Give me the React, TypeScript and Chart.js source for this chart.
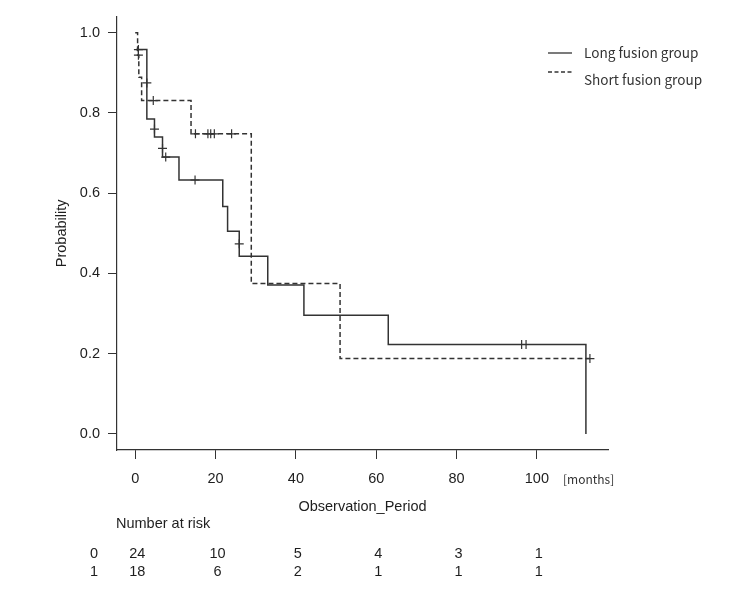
import React, { useEffect, useRef } from "react";
import { Chart, registerables } from "chart.js";

Chart.register(...registerables);

// ---- data ----
const xTicks = [0, 20, 40, 60, 80, 100];
const yTicks = [0, 0.2, 0.4, 0.6, 0.8, 1.0];
const seriesNames = ["Long fusion group", "Short fusion group"];

// Long fusion group (solid) Kaplan-Meier steps: time of change, survival after
const longTimes = [0.2, 2.9, 4.8, 6.8, 10.9, 21.8, 23.0, 25.9, 33.0, 42.0, 63.0, 112.2];
const longSurv = [0.958, 0.785, 0.74, 0.69, 0.633, 0.567, 0.505, 0.443, 0.371, 0.296, 0.223, 0.0];
const longCensorTimes = [0.8, 2.9, 4.8, 6.8, 7.6, 14.9, 25.9, 96.2, 97.3];
const longCensorSurv = [0.958, 0.875, 0.76, 0.712, 0.69, 0.633, 0.474, 0.223, 0.223];

// Short fusion group (dashed)
const shortTimes = [0, 0.6, 0.9, 1.6, 13.9, 28.9, 51.0, 113.2];
const shortSurv = [1.0, 0.944, 0.889, 0.831, 0.748, 0.375, 0.188, 0.188];
const shortCensorTimes = [0.8, 4.5, 15.0, 18.1, 18.8, 19.7, 24.0, 113.2];
const shortCensorSurv = [0.944, 0.831, 0.748, 0.748, 0.748, 0.748, 0.748, 0.188];

// Number at risk table
const riskGroups = ["0", "1"];
const riskLong = [24, 10, 5, 4, 3, 1];
const riskShort = [18, 6, 2, 1, 1, 1];

const LINE = "#333333";
const TEXT = "#1e1e1e";
const SANS = "'Liberation Sans', Arial, sans-serif";
const JP = "'Noto Sans CJK JP', 'Noto Sans', sans-serif";

const zip = (xs: number[], ys: number[]) => xs.map((x, i) => ({ x, y: ys[i] }));

const textPlugin = {
  id: "kmText",
  afterDraw(chart: any) {
    const ctx = chart.ctx as CanvasRenderingContext2D;
    const xs = chart.scales.x;
    const ca = chart.chartArea;
    ctx.save();
    ctx.fillStyle = TEXT;
    ctx.textBaseline = "middle";

    // y title
    ctx.save();
    ctx.translate(62, (ca.top + ca.bottom) / 2);
    ctx.rotate(-Math.PI / 2);
    ctx.textAlign = "center";
    ctx.font = `14.5px ${SANS}`;
    ctx.fillText("Probability", 0, 0);
    ctx.restore();

    // x title
    ctx.textAlign = "center";
    ctx.font = `14.5px ${SANS}`;
    ctx.fillText("Observation_Period", (ca.left + ca.right) / 2, 507);

    // [months]
    ctx.textAlign = "left";
    ctx.font = `12px ${JP}`;
    ctx.fillStyle = "#333";
    ctx.fillText("[months]", 563, 479);

    // Number at risk
    ctx.fillStyle = TEXT;
    ctx.font = `14.5px ${SANS}`;
    ctx.textAlign = "left";
    ctx.fillText("Number at risk", 116, 524);
    const rows = [riskLong, riskShort];
    const rowY = [554, 572];
    rows.forEach((row, r) => {
      ctx.textAlign = "center";
      ctx.fillText(riskGroups[r], 94, rowY[r]);
      row.forEach((v, i) => {
        ctx.fillText(String(v), xs.getPixelForValue(xTicks[i]) + 2, rowY[r]);
      });
    });

    // legend
    ctx.strokeStyle = LINE;
    ctx.lineWidth = 1.3;
    ctx.beginPath();
    ctx.moveTo(548, 53);
    ctx.lineTo(572, 53);
    ctx.stroke();
    ctx.setLineDash([4, 2.5]);
    ctx.beginPath();
    ctx.moveTo(548, 72);
    ctx.lineTo(572, 72);
    ctx.stroke();
    ctx.setLineDash([]);
    ctx.fillStyle = "#333";
    ctx.font = `13.6px ${JP}`;
    ctx.textAlign = "left";
    ctx.fillText(seriesNames[0], 584, 53);
    ctx.fillText(seriesNames[1], 584, 80);
    ctx.restore();
  },
};

export default function App() {
  const ref = useRef<HTMLCanvasElement | null>(null);
  useEffect(() => {
    if (!ref.current) return;
    const chart = new Chart(ref.current, {
      type: "line",
      data: {
        datasets: [
          {
            label: seriesNames[0],
            data: zip(longTimes, longSurv),
            stepped: "before",
            borderColor: LINE,
            borderWidth: 1.5,
            pointRadius: 0,
            fill: false,
          },
          {
            label: seriesNames[1],
            data: zip(shortTimes, shortSurv),
            stepped: "before",
            borderColor: LINE,
            borderWidth: 1.5,
            borderDash: [5, 3],
            pointRadius: 0,
            fill: false,
          },
          {
            label: "long censor",
            data: zip(longCensorTimes, longCensorSurv),
            showLine: false,
            pointStyle: "cross",
            pointRadius: 4.5,
            pointBorderColor: LINE,
            pointBorderWidth: 1.2,
            borderColor: LINE,
          },
          {
            label: "short censor",
            data: zip(shortCensorTimes, shortCensorSurv),
            showLine: false,
            pointStyle: "cross",
            pointRadius: 4.5,
            pointBorderColor: LINE,
            pointBorderWidth: 1.2,
            borderColor: LINE,
          },
        ],
      },
      options: {
        responsive: false,
        animation: false,
        events: [],
        layout: { padding: { top: 16, right: 142, bottom: 109, left: 0 } },
        plugins: { legend: { display: false }, tooltip: { enabled: false } },
        scales: {
          x: {
            type: "linear",
            min: -4.53,
            max: 117.7,
            afterFit: (s: any) => {
              s.height = 40;
            },
            afterBuildTicks: (s: any) => {
              s.ticks = xTicks.map((v) => ({ value: v }));
            },
            grid: {
              drawOnChartArea: false,
              drawTicks: true,
              tickLength: 9,
              color: LINE,
              lineWidth: 1,
            },
            border: { display: true, color: LINE, width: 1.2 },
            ticks: {
              color: TEXT,
              font: { family: SANS, size: 14.5 },
              padding: 11,
              maxRotation: 0,
              callback: (v: any) => String(v),
            },
          },
          y: {
            type: "linear",
            min: -0.04,
            max: 1.04,
            afterFit: (s: any) => {
              s.width = 117;
            },
            afterBuildTicks: (s: any) => {
              s.ticks = yTicks.map((v) => ({ value: v }));
            },
            grid: {
              drawOnChartArea: false,
              drawTicks: true,
              tickLength: 9,
              color: LINE,
              lineWidth: 1,
            },
            border: { display: true, color: LINE, width: 1.2 },
            ticks: {
              color: TEXT,
              font: { family: SANS, size: 14.5 },
              padding: 8,
              callback: (v: any) => Number(v).toFixed(1),
            },
          },
        },
      },
      plugins: [textPlugin],
    });
    return () => chart.destroy();
  }, []);
  return (
    <div style={{ position: "absolute", left: 0, top: 0, width: 750, height: 599, background: "#fff" }}>
      <canvas ref={ref} width={750} height={599} />
    </div>
  );
}
